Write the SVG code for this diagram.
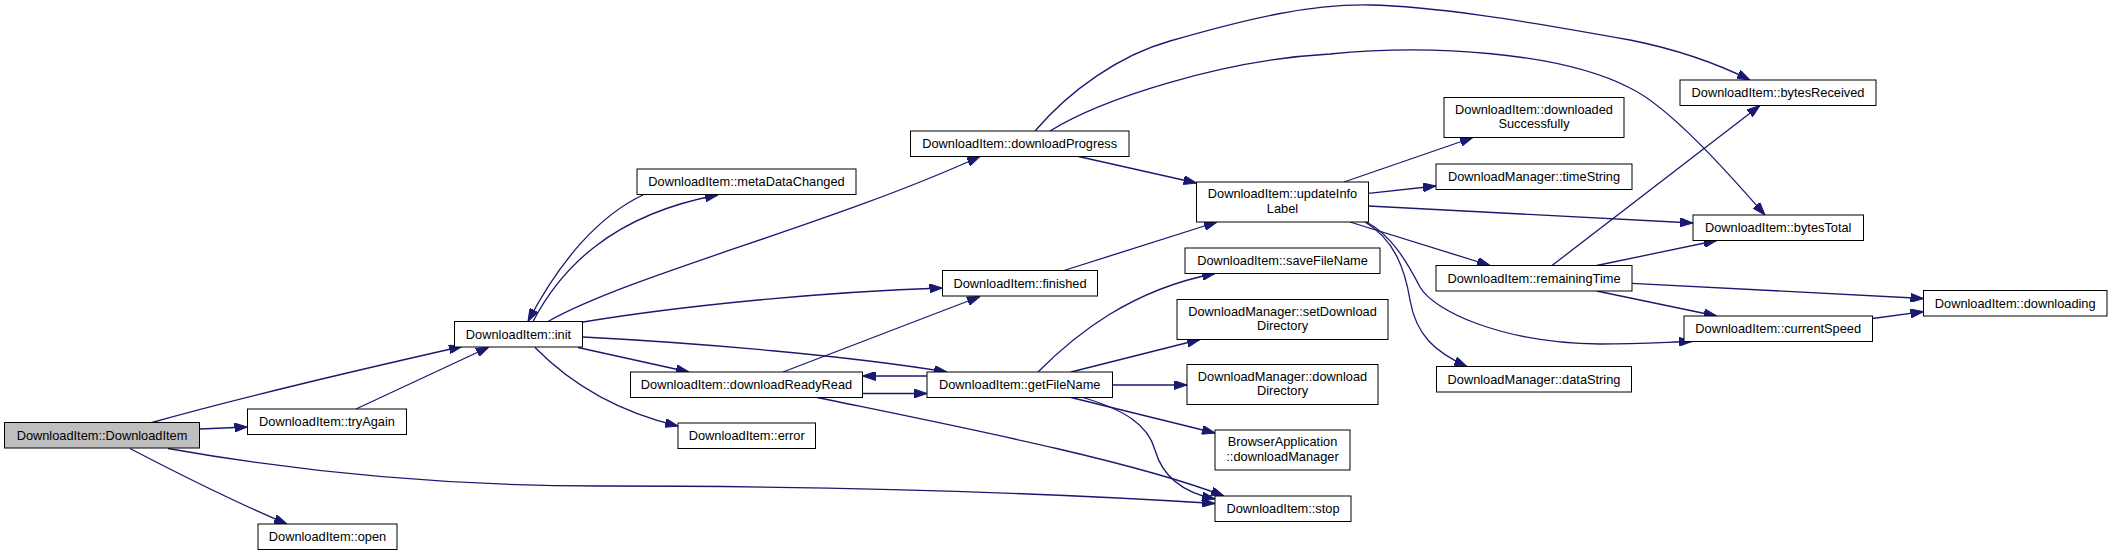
<svg xmlns="http://www.w3.org/2000/svg" width="2112" height="555" viewBox="0 0 2112 555">
<style>
.n rect{fill:#ffffff;stroke:#000000;stroke-width:1}
.n text{font-family:"Liberation Sans",Arial,sans-serif;font-size:12.8px;fill:#000000;text-anchor:middle}
.root rect{fill:#bfbfbf}
#edges path{fill:none;stroke:#191970;stroke-width:1.3;marker-end:url(#ah)}
</style>
<defs>
<marker id="ah" viewBox="0 0 13 9" refX="13" refY="4.5" markerWidth="13" markerHeight="9" orient="auto" markerUnits="userSpaceOnUse">
<path d="M0,0 L13,4.5 L0,9 z" fill="#191970" stroke="#191970" stroke-width="1"/>
</marker>
</defs>
<rect width="2112" height="555" fill="#ffffff"/>
<g id="edges">
<path d="M150,423 C250,395 380,365 462,346.5"/>
<path d="M200,429 L247.5,427"/>
<path d="M356,409 L489,347"/>
<path d="M130,448.5 C175,472 235,502 287,524"/>
<path d="M168,448.5 C300,472 450,486 600,486 C800,486 1000,490 1215,503.5"/>
<path d="M533,321.5 C560,270 610,215 718,195"/>
<path d="M643,195 C600,215 560,260 528,321.5"/>
<path d="M548,321.5 C630,275 830,225 980,156.5"/>
<path d="M583,322 C680,306 820,292 942.5,288"/>
<path d="M583,337 C700,343 850,356 947,372"/>
<path d="M578,347.5 L689,372"/>
<path d="M535,347.5 C565,378 610,410 678,426"/>
<path d="M783,372 L980,296.5"/>
<path d="M927,376 L862.5,376"/>
<path d="M862.5,393.5 L927,393.5"/>
<path d="M817,397.5 C950,425 1130,460 1224,496"/>
<path d="M1083,397.5 C1125,410 1148,425 1155,450 C1162,475 1180,492 1215,499"/>
<path d="M1071,397.5 L1215,433"/>
<path d="M1112.5,385 L1187,385"/>
<path d="M1071,372 L1200,339.5"/>
<path d="M1038,372 C1075,335 1130,290 1215,273.5"/>
<path d="M1078.5,156.5 L1196.5,183"/>
<path d="M1064,270.5 L1217,222"/>
<path d="M1344,182 L1473,137.5"/>
<path d="M1368.5,193.3 L1436,186"/>
<path d="M1368.5,206 L1693,223"/>
<path d="M1350,222 L1490,265.5"/>
<path d="M1366.7,222 C1392,236 1407,262 1420,287 C1433,310 1500,343 1600,344 C1640,344 1670,342 1692,341.5"/>
<path d="M1365,222 C1395,240 1405,270 1410,300 C1416,335 1435,352 1467,366.5"/>
<path d="M1552,265.5 L1760,105.5"/>
<path d="M1596.7,265.5 L1716.7,240.5"/>
<path d="M1632,283.3 L1923.5,298.5"/>
<path d="M1596.7,291 L1716.7,316"/>
<path d="M1872.5,318.5 L1923.5,311.7"/>
<path d="M1035,131 C1070,90 1120,55 1170,41 C1250,18 1310,4 1370,5 C1430,6 1520,20 1630,40 C1680,50 1720,65 1750,80"/>
<path d="M1050,131 C1100,100 1220,60 1330,54 C1430,44 1560,52 1630,88 C1670,107 1730,175 1765,215"/>
</g>
<g id="n_DownloadItem" class="n root"><rect x="4.5" y="422.5" width="195" height="25.5"/><text x="102" y="439.7">DownloadItem::DownloadItem</text></g>
<g id="n_tryAgain" class="n"><rect x="247.5" y="409" width="159" height="25.5"/><text x="327" y="426.2">DownloadItem::tryAgain</text></g>
<g id="n_open" class="n"><rect x="258" y="524" width="139" height="25.5"/><text x="327.5" y="541.2">DownloadItem::open</text></g>
<g id="n_init" class="n"><rect x="454.5" y="321.5" width="128" height="25.5"/><text x="518.5" y="338.7">DownloadItem::init</text></g>
<g id="n_metaDataChanged" class="n"><rect x="637" y="169" width="219" height="25.5"/><text x="746.5" y="186.2">DownloadItem::metaDataChanged</text></g>
<g id="n_downloadProgress" class="n"><rect x="910.5" y="131" width="218.5" height="25.5"/><text x="1019.7" y="148.2">DownloadItem::downloadProgress</text></g>
<g id="n_finished" class="n"><rect x="942.5" y="270.5" width="155" height="25.5"/><text x="1020" y="287.7">DownloadItem::finished</text></g>
<g id="n_downloadReadyRead" class="n"><rect x="630.5" y="372" width="232" height="25.5"/><text x="746.5" y="389.2">DownloadItem::downloadReadyRead</text></g>
<g id="n_getFileName" class="n"><rect x="927" y="372" width="185.5" height="25.5"/><text x="1019.7" y="389.2">DownloadItem::getFileName</text></g>
<g id="n_error" class="n"><rect x="678" y="423" width="137.5" height="25.5"/><text x="746.7" y="440.2">DownloadItem::error</text></g>
<g id="n_updateInfoLabel" class="n"><rect x="1196.5" y="182" width="172" height="40"/><text x="1282.5" y="198">DownloadItem::updateInfo</text><text x="1282.5" y="212.7">Label</text></g>
<g id="n_saveFileName" class="n"><rect x="1185" y="248" width="195" height="25.5"/><text x="1282.5" y="265.2">DownloadItem::saveFileName</text></g>
<g id="n_setDownloadDirectory" class="n"><rect x="1177" y="299.5" width="211" height="40"/><text x="1282.5" y="315.5">DownloadManager::setDownload</text><text x="1282.5" y="330.2">Directory</text></g>
<g id="n_downloadDirectory" class="n"><rect x="1187" y="364.5" width="191" height="40"/><text x="1282.5" y="380.5">DownloadManager::download</text><text x="1282.5" y="395.2">Directory</text></g>
<g id="n_downloadManager" class="n"><rect x="1215" y="430" width="135" height="40"/><text x="1282.5" y="446">BrowserApplication</text><text x="1282.5" y="460.7">::downloadManager</text></g>
<g id="n_stop" class="n"><rect x="1215" y="496" width="136" height="25.5"/><text x="1283" y="513.2">DownloadItem::stop</text></g>
<g id="n_downloadedSuccessfully" class="n"><rect x="1444" y="97.5" width="180" height="40"/><text x="1534" y="113.5">DownloadItem::downloaded</text><text x="1534" y="128.2">Successfully</text></g>
<g id="n_timeString" class="n"><rect x="1436" y="164" width="196" height="25.5"/><text x="1534" y="181.2">DownloadManager::timeString</text></g>
<g id="n_remainingTime" class="n"><rect x="1436" y="265.5" width="196" height="25.5"/><text x="1534" y="282.7">DownloadItem::remainingTime</text></g>
<g id="n_dataString" class="n"><rect x="1436.5" y="366.5" width="195" height="25.5"/><text x="1534" y="383.7">DownloadManager::dataString</text></g>
<g id="n_bytesReceived" class="n"><rect x="1680" y="80" width="196" height="25.5"/><text x="1778" y="97.2">DownloadItem::bytesReceived</text></g>
<g id="n_bytesTotal" class="n"><rect x="1693" y="215" width="170.5" height="25.5"/><text x="1778.2" y="232.2">DownloadItem::bytesTotal</text></g>
<g id="n_downloading" class="n"><rect x="1923.5" y="290.5" width="183.5" height="25.5"/><text x="2015.2" y="307.7">DownloadItem::downloading</text></g>
<g id="n_currentSpeed" class="n"><rect x="1684" y="316" width="188.5" height="25.5"/><text x="1778.2" y="333.2">DownloadItem::currentSpeed</text></g>
</svg>
